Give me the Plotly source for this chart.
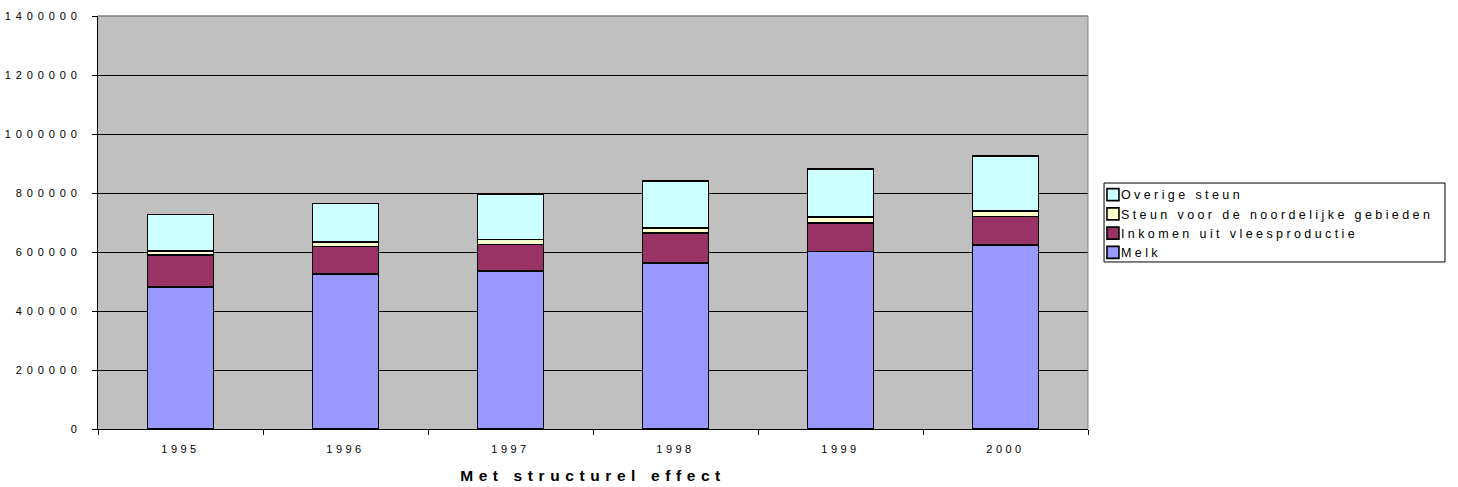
import plotly.graph_objects as go

years = ["1995", "1996", "1997", "1998", "1999", "2000"]
melk = [481000, 525000, 536000, 562000, 602000, 623000]
vlees = [108000, 93000, 90000, 102000, 96000, 98000]
noord = [14000, 16000, 17000, 17000, 20000, 17000]
overige = [124000, 130000, 153000, 159000, 164000, 188000]

names = ["Melk", "Inkomen uit vleesproductie", "Steun voor de noordelijke gebieden", "Overige steun"]
values = [melk, vlees, noord, overige]
colors = ["#9999FF", "#993366", "#FFFFCC", "#CCFFFF"]
x_title = "Met structurel effect"

FONT = "Liberation Sans, Arial, sans-serif"

fig = go.Figure()
for nm, vals, col in zip(names, values, colors):
    fig.add_trace(go.Bar(
        x=years, y=vals, name=nm,
        marker=dict(color=col, line=dict(color="black", width=1.6)),
        width=0.4,
    ))

fig.update_layout(
    barmode="stack",
    width=1458, height=487,
    margin=dict(l=98, r=370, t=16, b=58),
    paper_bgcolor="white",
    plot_bgcolor="#C0C0C0",
    font=dict(family=FONT, size=11, color="black"),
    showlegend=True,
    legend=dict(
        traceorder="reversed",
        x=0.9929, y=0.603, xanchor="left", yanchor="top",
        bgcolor="rgba(0,0,0,0)",
        borderwidth=0,
        font=dict(family=FONT, size=12.5, color="black"),
        tracegroupgap=0,
    ),
    xaxis=dict(
        type="category",
        automargin=False,
        tickson="boundaries",
        ticks="outside", ticklen=5, tickcolor="black",
        showline=True, linecolor="black", linewidth=1,
        showgrid=False,
        ticklabelstandoff=10,
        tickfont=dict(family=FONT, size=11),
        title=dict(text="<b>" + x_title + "</b>", font=dict(family=FONT, size=15.5), standoff=15),
    ),
    yaxis=dict(
        automargin=False,
        range=[0, 1400000],
        dtick=200000,
        tickformat="d",
        ticks="outside", ticklen=5, tickcolor="black",
        showline=True, linecolor="black", linewidth=1,
        showgrid=True, gridcolor="black", gridwidth=1,
        ticklabelstandoff=8,
        tickfont=dict(family=FONT, size=11),
        zeroline=False,
    ),
    shapes=[
        dict(type="line", xref="paper", yref="paper", x0=0, x1=1, y0=1, y1=1,
             line=dict(color="#808080", width=1.5), layer="above"),
        dict(type="line", xref="paper", yref="paper", x0=1, x1=1, y0=0, y1=1,
             line=dict(color="#808080", width=1), layer="above"),
        dict(type="rect", xref="paper", yref="paper", x0=1.0162, x1=1.3606, y0=0.4044, y1=0.5956,
             line=dict(color="black", width=1), fillcolor="rgba(0,0,0,0)"),
    ],
)

post = """
document.body.style.margin = '0';
document.body.style.overflow = 'hidden';
var gd = document.getElementById('{plot_id}');
function ls(){
  gd.querySelectorAll('.ytick text').forEach(function(t){t.style.letterSpacing='4.9px';});
  gd.querySelectorAll('.xtick text').forEach(function(t){t.style.letterSpacing='3.5px';});
  gd.querySelectorAll('.legendtext').forEach(function(t){t.style.letterSpacing='3.4px';});
  gd.querySelectorAll('.g-xtitle text').forEach(function(t){t.style.letterSpacing='5.6px';});
  gd.querySelectorAll('.legend .scrollbox').forEach(function(g){g.removeAttribute('clip-path');});
  gd.querySelectorAll('.legend .legendpoints').forEach(function(g){g.setAttribute('transform','translate(12,0)');});
}
ls();
gd.on('plotly_afterplot', ls);
"""

fig.write_html("out.html", post_script=post, config={"displayModeBar": False})
